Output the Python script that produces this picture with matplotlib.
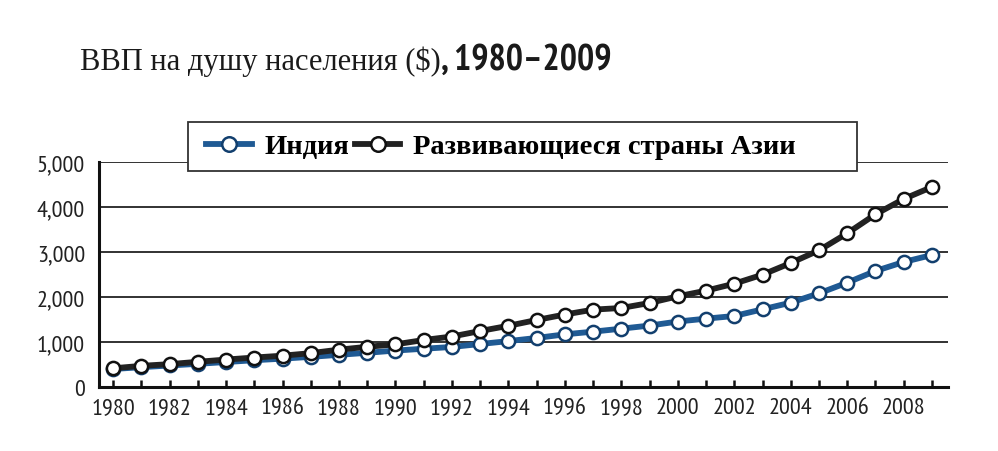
import matplotlib
matplotlib.use("Agg")
import matplotlib.pyplot as plt
from matplotlib import font_manager
from matplotlib.patches import Rectangle

# ВВП на душу населения, оценка по графику
years = list(range(1980, 2010))
india = [400, 440, 478, 515, 555, 595, 630, 670, 715, 760,
         810, 850, 890, 955, 1020, 1090, 1170, 1230, 1296, 1365,
         1455, 1519, 1578, 1726, 1874, 2081, 2319, 2578, 2778, 2933]
asia = [415, 470, 508, 560, 610, 655, 696, 752, 830, 893,
        948, 1044, 1122, 1244, 1360, 1489, 1611, 1719, 1756, 1867,
        2015, 2141, 2296, 2496, 2756, 3037, 3415, 3837, 4178, 4444]
ytick_vals = [0, 1000, 2000, 3000, 4000, 5000]
xtick_vals = list(range(1980, 2010, 2))

# узкий шрифт для подписей, если есть
names = {f.name for f in font_manager.fontManager.ttflist}
narrow = "DejaVu Sans"
for cand in ["Liberation Sans Narrow", "Arial Narrow", "PT Sans Narrow",
             "Roboto Condensed", "Archivo Narrow"]:
    if cand in names:
        narrow = cand
        break
serif = "Liberation Serif"

W, H = 998, 452
fig = plt.figure(figsize=(W / 100, H / 100), dpi=100)
ax = fig.add_axes([99 / W, 1 - 388 / H, 849 / W, 225 / H])

blue = "#1f5a94"
ax.plot(years, india, color=blue, lw=4.2, marker="o", ms=9.5, mfc="white",
        mec="#123f6e", mew=1.8, label="Индия", zorder=3)
ax.plot(years, asia, color="#222222", lw=4.2, marker="o", ms=9.5, mfc="white",
        mec="#111111", mew=1.8, label="Развивающиеся страны Азии", zorder=4)

ax.set_xlim(1979.5, 2009.57)
ax.set_ylim(0, 5000)
ax.set_yticks(ytick_vals)
ax.set_yticklabels([f"{v:,}" for v in ytick_vals])
ax.set_xticks(years)
ax.set_xticklabels([str(y) if y in xtick_vals else "" for y in years])

for s in ["top", "right"]:
    ax.spines[s].set_visible(False)
for s in ["left", "bottom"]:
    ax.spines[s].set_linewidth(2.2)
    ax.spines[s].set_color("#111111")

ax.yaxis.grid(True, color="#222222", lw=1.3)
ax.set_axisbelow(True)
ax.tick_params(axis="x", direction="in", length=5, width=1.8, pad=7, colors="#111111")
ax.tick_params(axis="y", length=0, pad=10)
for lab in ax.get_xticklabels() + ax.get_yticklabels():
    lab.set_fontfamily(narrow)
    lab.set_fontsize(17.5)
    lab.set_color("#222222")

# рамка легенды
box = Rectangle((188 / W, 1 - 172 / H), 669 / W, 49 / H, transform=fig.transFigure,
                facecolor="white", edgecolor="#333333", lw=1.3, zorder=5)
fig.patches.append(box)

handles, labels = ax.get_legend_handles_labels()
leg = fig.legend(handles, labels, loc="center left", bbox_to_anchor=(206 / W, 1 - 147.5 / H),
                 ncol=2, frameon=False, numpoints=1, handlelength=1.6, markerscale=1.1,
                 handletextpad=0.45, columnspacing=0.2, borderpad=0, borderaxespad=0,
                 prop={"family": serif, "weight": "bold", "size": 20.5})
leg.set_zorder(6)

t1 = fig.text(80 / W, 1 - 70 / H, "ВВП на душу населения ($)", family=serif,
              fontsize=22, va="baseline", ha="left", color="#1a1a1a")
fig.canvas.draw()
bb = t1.get_window_extent()
fig.text(bb.x1 / W, 1 - 70 / H, ", 1980–2009", family=narrow, weight="bold",
         fontsize=26, va="baseline", ha="left", color="#1a1a1a")

fig.savefig("out.png", dpi=100)
